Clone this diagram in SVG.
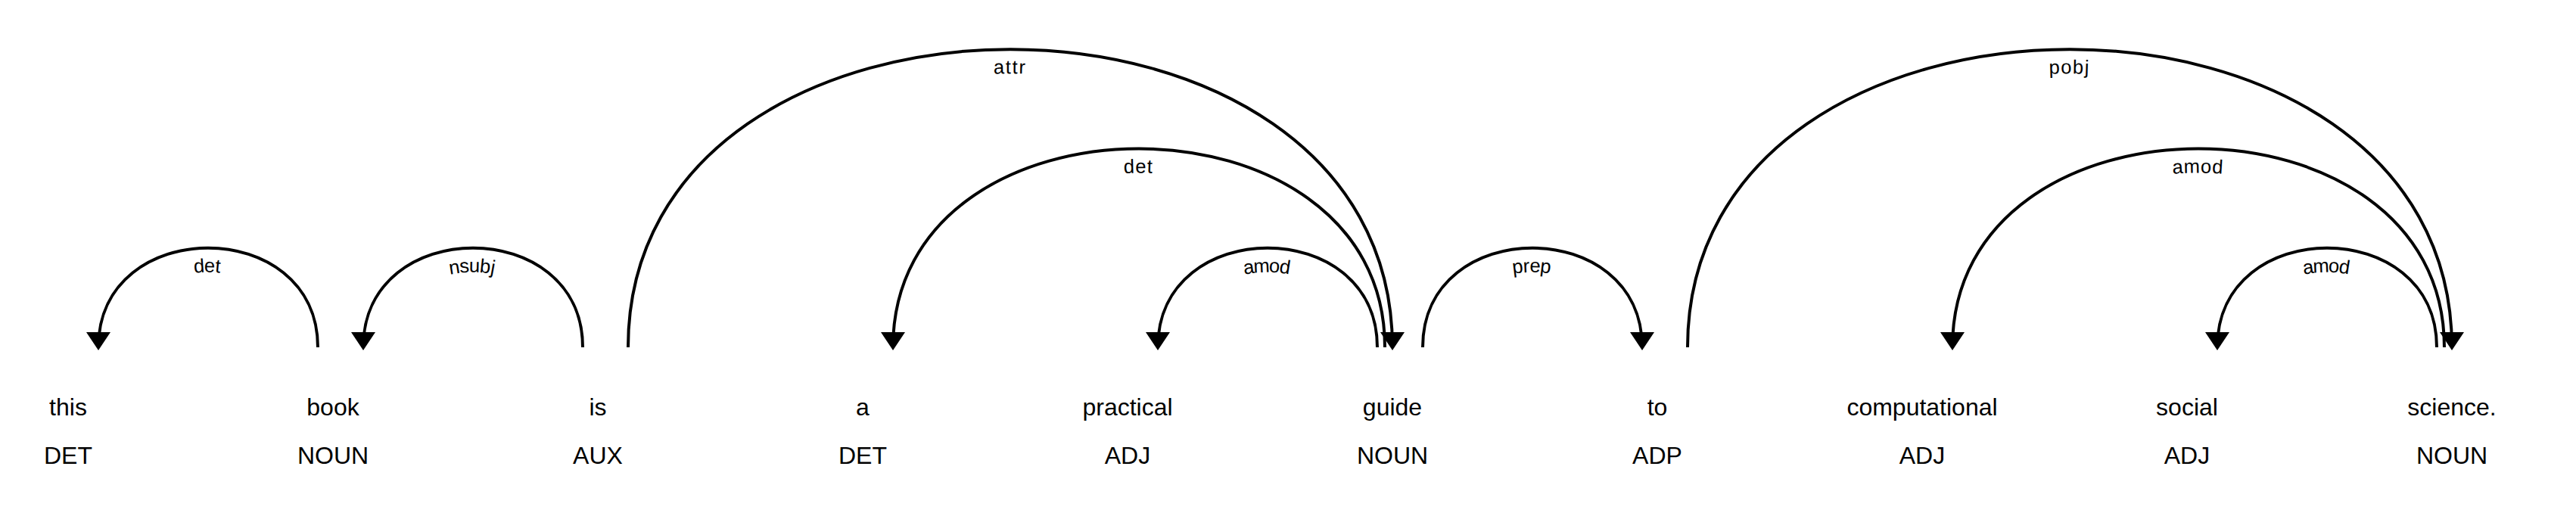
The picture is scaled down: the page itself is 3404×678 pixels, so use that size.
<svg xmlns="http://www.w3.org/2000/svg" xmlns:xlink="http://www.w3.org/1999/xlink" width="3404" height="678" viewBox="0 0 3404 678">
<style>
  text { font-family: "Liberation Sans", Arial, sans-serif; fill: #000000; }
  .tok { font-size: 32px; text-anchor: middle; }
  .arc { fill: none; stroke: #000000; stroke-width: 4px; }
  .head { fill: #000000; }
  .lbl { font-size: 25.6px; letter-spacing: 2px; }
</style>
<rect x="0" y="0" width="3404" height="678" fill="#ffffff"/>
<g id="nodes">
  <g id="w0"><text class="tok" y="549"><tspan x="90">this</tspan><tspan x="90" dy="64">DET</tspan></text></g>
  <g id="w1"><text class="tok" y="549"><tspan x="440">book</tspan><tspan x="440" dy="64">NOUN</tspan></text></g>
  <g id="w2"><text class="tok" y="549"><tspan x="790">is</tspan><tspan x="790" dy="64">AUX</tspan></text></g>
  <g id="w3"><text class="tok" y="549"><tspan x="1140">a</tspan><tspan x="1140" dy="64">DET</tspan></text></g>
  <g id="w4"><text class="tok" y="549"><tspan x="1490">practical</tspan><tspan x="1490" dy="64">ADJ</tspan></text></g>
  <g id="w5"><text class="tok" y="549"><tspan x="1840">guide</tspan><tspan x="1840" dy="64">NOUN</tspan></text></g>
  <g id="w6"><text class="tok" y="549"><tspan x="2190">to</tspan><tspan x="2190" dy="64">ADP</tspan></text></g>
  <g id="w7"><text class="tok" y="549"><tspan x="2540">computational</tspan><tspan x="2540" dy="64">ADJ</tspan></text></g>
  <g id="w8"><text class="tok" y="549"><tspan x="2890">social</tspan><tspan x="2890" dy="64">ADJ</tspan></text></g>
  <g id="w9"><text class="tok" y="549"><tspan x="3240">science.</tspan><tspan x="3240" dy="64">NOUN</tspan></text></g>
</g>
<g id="connectors">
  <g id="e0">
    <path class="arc" id="a0" d="M130,459 C130,284 420,284 420,459"/>
    <text class="lbl" dy="32"><textPath xlink:href="#a0" href="#a0" startOffset="50%" text-anchor="middle">det</textPath></text>
    <path class="head" d="M130,463 L114,439 146,439 Z"/>
  </g>
  <g id="e1">
    <path class="arc" id="a1" d="M480,459 C480,284 770,284 770,459"/>
    <text class="lbl" dy="32"><textPath xlink:href="#a1" href="#a1" startOffset="50%" text-anchor="middle">nsubj</textPath></text>
    <path class="head" d="M480,463 L464,439 496,439 Z"/>
  </g>
  <g id="e2">
    <path class="arc" id="a2" d="M830,459 C830,-66 1840,-66 1840,459"/>
    <text class="lbl" dy="32"><textPath xlink:href="#a2" href="#a2" startOffset="50%" text-anchor="middle">attr</textPath></text>
    <path class="head" d="M1840,463 L1856,439 1824,439 Z"/>
  </g>
  <g id="e3">
    <path class="arc" id="a3" d="M1180,459 C1180,109 1830,109 1830,459"/>
    <text class="lbl" dy="32"><textPath xlink:href="#a3" href="#a3" startOffset="50%" text-anchor="middle">det</textPath></text>
    <path class="head" d="M1180,463 L1164,439 1196,439 Z"/>
  </g>
  <g id="e4">
    <path class="arc" id="a4" d="M1530,459 C1530,284 1820,284 1820,459"/>
    <text class="lbl" dy="32"><textPath xlink:href="#a4" href="#a4" startOffset="50%" text-anchor="middle">amod</textPath></text>
    <path class="head" d="M1530,463 L1514,439 1546,439 Z"/>
  </g>
  <g id="e5">
    <path class="arc" id="a5" d="M1880,459 C1880,284 2170,284 2170,459"/>
    <text class="lbl" dy="32"><textPath xlink:href="#a5" href="#a5" startOffset="50%" text-anchor="middle">prep</textPath></text>
    <path class="head" d="M2170,463 L2186,439 2154,439 Z"/>
  </g>
  <g id="e6">
    <path class="arc" id="a6" d="M2230,459 C2230,-66 3240,-66 3240,459"/>
    <text class="lbl" dy="32"><textPath xlink:href="#a6" href="#a6" startOffset="50%" text-anchor="middle">pobj</textPath></text>
    <path class="head" d="M3240,463 L3256,439 3224,439 Z"/>
  </g>
  <g id="e7">
    <path class="arc" id="a7" d="M2580,459 C2580,109 3230,109 3230,459"/>
    <text class="lbl" dy="32"><textPath xlink:href="#a7" href="#a7" startOffset="50%" text-anchor="middle">amod</textPath></text>
    <path class="head" d="M2580,463 L2564,439 2596,439 Z"/>
  </g>
  <g id="e8">
    <path class="arc" id="a8" d="M2930,459 C2930,284 3220,284 3220,459"/>
    <text class="lbl" dy="32"><textPath xlink:href="#a8" href="#a8" startOffset="50%" text-anchor="middle">amod</textPath></text>
    <path class="head" d="M2930,463 L2914,439 2946,439 Z"/>
  </g>
</g>
</svg>
